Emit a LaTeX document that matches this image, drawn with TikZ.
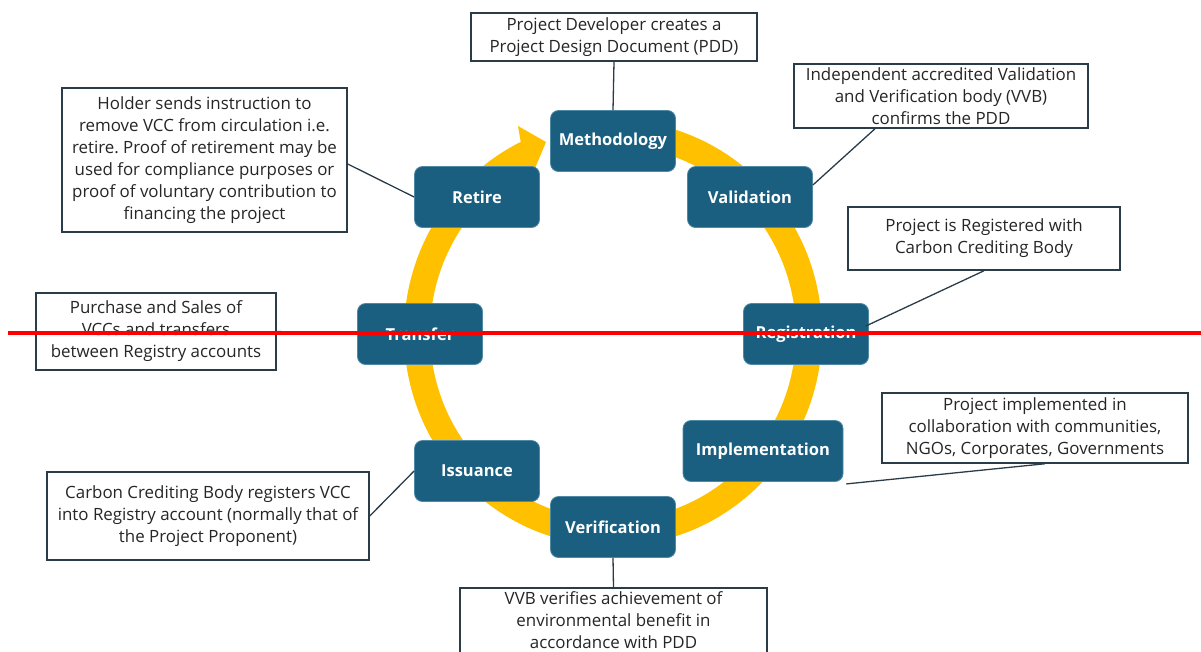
\documentclass[tikz,border=0pt]{standalone}
\usepackage{fontspec}
\setmainfont{Open Sans}
\usetikzlibrary{calc}
\definecolor{stepblue}{HTML}{1A5F80}
\definecolor{stepedge}{HTML}{4F89A6}
\definecolor{ringyellow}{HTML}{FFC000}
\definecolor{boxline}{HTML}{2A3C47}
\frenchspacing
\begin{document}
\begin{tikzpicture}[x=1pt,y=-1pt,
  stage/.style={fill=stepblue, draw=stepedge, line width=0.8pt, rounded corners=8pt,
    text=white, font=\bfseries\fontsize{16.5}{19}\selectfont,
    minimum width=125pt, minimum height=61pt, inner sep=0pt},
  note/.style={draw=boxline, line width=1.5pt, fill=white, align=center,
    text=black!85, font=\fontsize{16.9}{22}\selectfont, inner sep=0pt},
  link/.style={draw=boxline, line width=1.3pt}]
\useasboundingbox (0,0) rectangle (1201,651);

% ring
\draw[ringyellow, line width=26pt] ($(613,333)+(-95:196 and 200)$)
  arc[start angle=-95, end angle=244, x radius=196, y radius=200];
\fill[ringyellow] (518,126) -- (546,142) -- (528,185) -- cycle;

% notes
\node[note, minimum width=286, minimum height=48] (pddbox) at (614,37)
  {Project Developer creates a\\Project Design Document (PDD)};
\node[note, minimum width=294, minimum height=64] (vvbbox) at (941,96)
  {Independent accredited Validation\\and Verification body (VVB)\\confirms the PDD};
\node[note, minimum width=272, minimum height=63] (regbox) at (984,238.5)
  {Project is Registered with\\Carbon Crediting Body};
\node[note, minimum width=306, minimum height=70] (implbox) at (1035,428)
  {Project implemented in\\collaboration with communities,\\NGOs, Corporates, Governments};
\node[note, minimum width=307, minimum height=70] (verbox) at (613.5,623)
  {VVB verifies achievement of\\environmental benefit in\\accordance with PDD\rule[-5.5pt]{0pt}{5.5pt}};
\node[note, minimum width=322, minimum height=88] (ccbbox) at (208,516)
  {Carbon Crediting Body registers VCC\\into Registry account (normally that of\\the Project Proponent)};
\node[note, minimum width=240, minimum height=77] (purbox) at (156,331.5)
  {Purchase and Sales of\\VCCs and transfers\\between Registry accounts};
\node[note, minimum width=285, minimum height=144] (holdbox) at (204.5,160)
  {Holder sends instruction to\\remove VCC from circulation i.e.\\retire. Proof of retirement may be\\used for compliance purposes or\\proof of voluntary contribution to\\financing the project};

% stages
\node[stage] (meth) at (613,141) {Methodology};
\node[stage] (val) at (750,197) {Validation};
\node[stage] (regi) at (806,334) {Registration};
\node[stage, minimum width=160] (impl) at (763,451) {Implementation};
\node[stage] (verif) at (613,527) {Verification};
\node[stage] (iss) at (477,471) {Issuance};
\node[stage] (tra) at (420,334) {Transfer};
\node[stage] (ret) at (477,197) {Retire};

% links
\draw[link] (pddbox.south) -- (meth.north);
\draw[link] ([xshift=-66pt]vvbbox.south) -- ([yshift=12pt]val.east);
\draw[link] (regbox.south) -- ([xshift=-3pt,yshift=8pt]regi.east);
\draw[link] ([xshift=10pt]implbox.south) -- ([xshift=3pt,yshift=-2pt]impl.south east);
\draw[link] (verif.south) -- (verbox.north);
\draw[link] (ccbbox.east) -- (iss.west);
\draw[link] (purbox.east) -- (tra.west);
\draw[link] ([yshift=-4pt]holdbox.east) -- (ret.west);

% red line
\coordinate (redL) at (8,333);
\coordinate (redR) at (1201,333);
\draw[red, line width=4pt] (redL) -- (redR);
\end{tikzpicture}
\end{document}
